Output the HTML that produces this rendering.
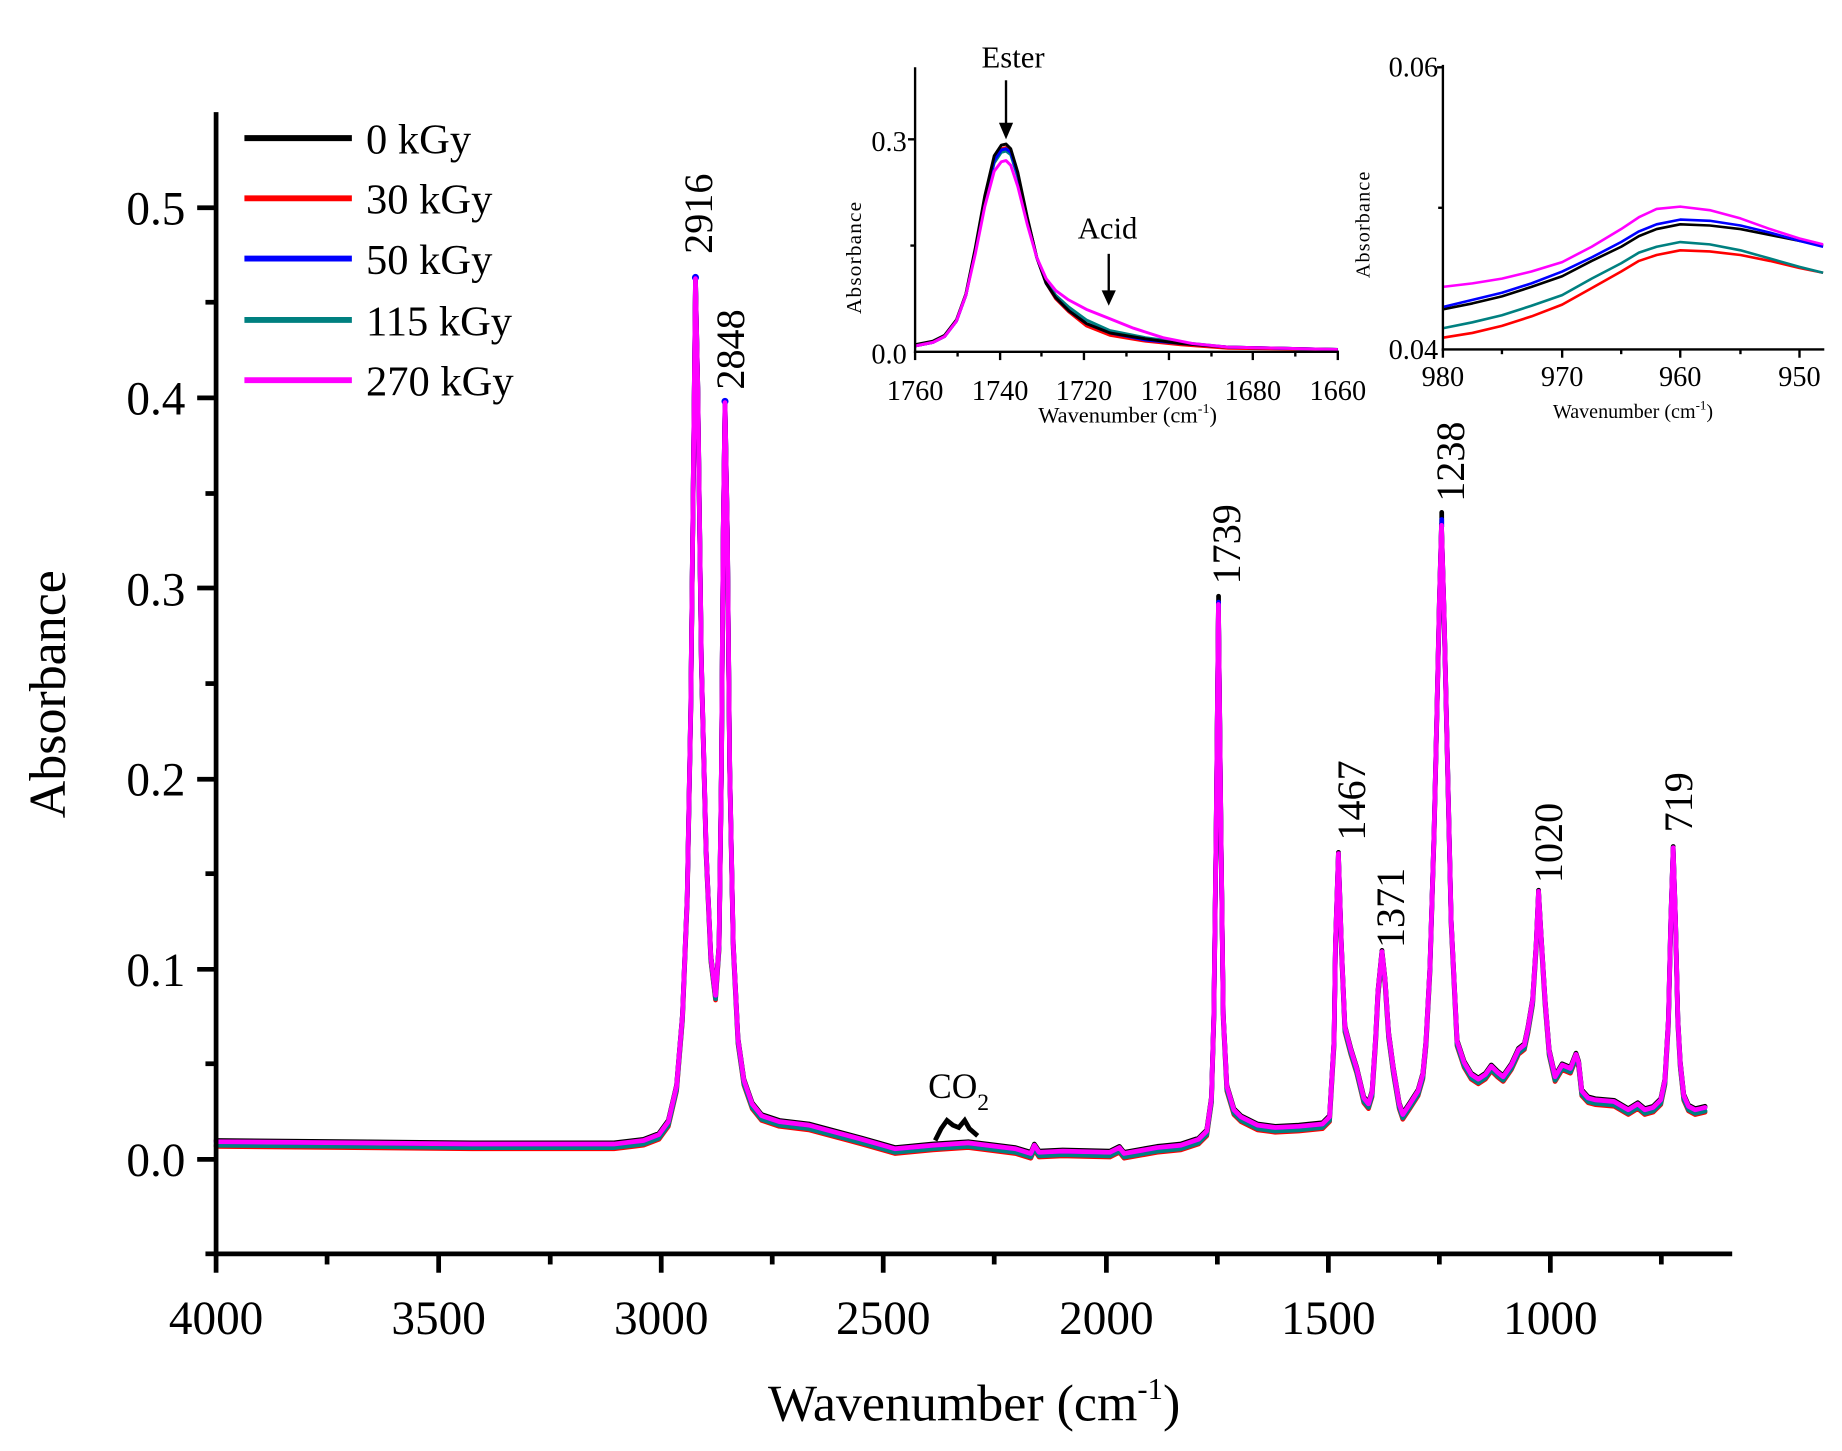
<!DOCTYPE html>
<html><head><meta charset="utf-8"><style>
html,body{margin:0;padding:0;background:#fff;}
svg{display:block;}
text{font-family:"Liberation Serif",serif;fill:#000;}
</style></head><body>
<svg width="1842" height="1451" viewBox="0 0 1560 1229" preserveAspectRatio="none" xmlns="http://www.w3.org/2000/svg">
<defs>
<path id="spec" fill="none" stroke-linejoin="round" stroke-linecap="round" d="M183,967 L300,968 L400,969 L520,969 L545,966 L558,961 L566,950 L573,920 L578,860 L582,760 L585,600 L587,420 L589,236 L591,330 L594,560 L598,720 L602,810 L606,843 L609,800 L611,650 L612.5,450 L614,341 L616,450 L618,650 L621,800 L625,880 L630,915 L637,935 L645,945 L660,950 L685,953 L700,957 L730,965 L758,973 L790,970 L820,968 L860,973 L873,977 L876,970 L880,976 L900,975 L940,976 L948,972 L952,977 L980,972 L1000,970 L1015,965 L1022,958 L1026,930 L1028,860 L1030,700 L1031.9,512 L1034,700 L1036,860 L1039,920 L1045,940 L1051,946 L1065,953 L1080,955 L1100,954 L1120,952 L1126,946 L1129.8,882 L1131,800 L1133.5,723 L1136,800 L1139,870 L1144,889 L1149,905 L1155,930 L1159,935 L1162,925 L1165,880 L1167,840 L1170.4,806 L1173,830 L1176,875 L1180,905 L1185,935 L1188,944 L1194,935 L1201,924 L1205,910 L1207.7,882 L1211,820 L1214.5,706 L1217,600 L1219,510 L1220.8,445 L1223,520 L1226,650 L1229,780 L1234,882 L1240,900 L1246,910 L1252,914 L1258,910 L1263,903 L1268,908 L1273,912 L1280,902 L1286,889 L1291,885 L1294,871 L1298,847 L1301,800 L1303,755 L1305,790 L1308.5,847 L1312,890 L1317,912 L1323,902 L1330,905 L1334.7,893 L1337,900 L1339.6,924 L1345,930 L1351,931.6 L1367,933 L1379,940 L1387,935 L1393,940 L1400,938 L1406.5,931.6 L1410,915 L1413,864 L1415,780 L1417,718 L1419,780 L1421,864 L1423,900 L1426,928 L1430,937 L1435.6,940 L1440,939 L1444,938"/>
</defs>
<g stroke-width="4">
<use href="#spec" stroke="#ff0000" transform="translate(0,4)"/>
<use href="#spec" stroke="#008080" transform="translate(0,3)"/>
<use href="#spec" stroke="#0000ff" transform="translate(0,0)"/>
<use href="#spec" stroke="#000000" transform="translate(0,-1)"/>
</g>
<path d="M792,966 L797,956 L802,949 L807,953 L812,955 L817,949 L821,956 L828,962" fill="none" stroke="#000" stroke-width="4"/>
<g stroke-width="4" stroke-linecap="round">
<line x1="1032" y1="505" x2="1032" y2="516" stroke="#000"/>
<line x1="1221" y1="434" x2="1221" y2="446" stroke="#000"/>
<line x1="1221" y1="440" x2="1221" y2="446" stroke="#0000ff"/>
<line x1="1032" y1="510" x2="1032" y2="516" stroke="#0000ff"/>
</g>
<g fill="#0000ff"><circle cx="589" cy="235" r="3"/><circle cx="614" cy="340" r="3"/></g>
<use href="#spec" stroke="#ff00ff" stroke-width="4"/>
<!-- main axes -->
<line x1="183" y1="95" x2="183" y2="1064" stroke="#000" stroke-width="4"/>
<line x1="181" y1="1062" x2="1467" y2="1062" stroke="#000" stroke-width="4"/>
<g stroke="#000" stroke-width="4">
<line x1="183" y1="1062" x2="183" y2="1078"/><line x1="277" y1="1062" x2="277" y2="1071"/>
<line x1="371.5" y1="1062" x2="371.5" y2="1078"/><line x1="466" y1="1062" x2="466" y2="1071"/>
<line x1="560" y1="1062" x2="560" y2="1078"/><line x1="654" y1="1062" x2="654" y2="1071"/>
<line x1="748" y1="1062" x2="748" y2="1078"/><line x1="842" y1="1062" x2="842" y2="1071"/>
<line x1="937" y1="1062" x2="937" y2="1078"/><line x1="1031" y1="1062" x2="1031" y2="1071"/>
<line x1="1125" y1="1062" x2="1125" y2="1078"/><line x1="1219" y1="1062" x2="1219" y2="1071"/>
<line x1="1313" y1="1062" x2="1313" y2="1078"/><line x1="1407" y1="1062" x2="1407" y2="1071"/>
<line x1="183" y1="982" x2="167" y2="982"/><line x1="183" y1="901" x2="174" y2="901"/>
<line x1="183" y1="821" x2="167" y2="821"/><line x1="183" y1="740" x2="174" y2="740"/>
<line x1="183" y1="660" x2="167" y2="660"/><line x1="183" y1="579" x2="174" y2="579"/>
<line x1="183" y1="498" x2="167" y2="498"/><line x1="183" y1="418" x2="174" y2="418"/>
<line x1="183" y1="337" x2="167" y2="337"/><line x1="183" y1="256" x2="174" y2="256"/>
<line x1="183" y1="176" x2="167" y2="176"/><line x1="183" y1="1062" x2="174" y2="1062"/>
</g>
<g font-size="40">
<text x="183" y="1130" text-anchor="middle">4000</text>
<text x="371.5" y="1130" text-anchor="middle">3500</text>
<text x="560" y="1130" text-anchor="middle">3000</text>
<text x="748" y="1130" text-anchor="middle">2500</text>
<text x="937" y="1130" text-anchor="middle">2000</text>
<text x="1125" y="1130" text-anchor="middle">1500</text>
<text x="1313" y="1130" text-anchor="middle">1000</text>
<text x="157" y="996" text-anchor="end">0.0</text>
<text x="157" y="835" text-anchor="end">0.1</text>
<text x="157" y="674" text-anchor="end">0.2</text>
<text x="157" y="513" text-anchor="end">0.3</text>
<text x="157" y="351" text-anchor="end">0.4</text>
<text x="157" y="190" text-anchor="end">0.5</text>
</g>
<text x="825" y="1203" font-size="44" text-anchor="middle">Wavenumber (cm<tspan dy="-18" font-size="26">-1</tspan><tspan dy="18">)</tspan></text>
<text transform="translate(55,588) rotate(-90)" font-size="44" text-anchor="middle">Absorbance</text>
<!-- legend -->
<g stroke-width="5">
<line x1="207" y1="117" x2="298" y2="117" stroke="#000"/>
<line x1="207" y1="168" x2="298" y2="168" stroke="#ff0000"/>
<line x1="207" y1="219" x2="298" y2="219" stroke="#0000ff"/>
<line x1="207" y1="271" x2="298" y2="271" stroke="#008080"/>
<line x1="207" y1="322" x2="298" y2="322" stroke="#ff00ff"/>
</g>
<g font-size="36">
<text x="310" y="130">0 kGy</text>
<text x="310" y="181">30 kGy</text>
<text x="310" y="232">50 kGy</text>
<text x="310" y="284">115 kGy</text>
<text x="310" y="335">270 kGy</text>
</g>
<g font-size="34">
<text transform="translate(603,215) rotate(-90)">2916</text>
<text transform="translate(630,330) rotate(-90)">2848</text>
<text transform="translate(1050,495) rotate(-90)">1739</text>
<text transform="translate(1156,712) rotate(-90)">1467</text>
<text transform="translate(1189,803) rotate(-90)">1371</text>
<text transform="translate(1240,425) rotate(-90)">1238</text>
<text transform="translate(1323,748) rotate(-90)">1020</text>
<text transform="translate(1433,705) rotate(-90)">719</text>
</g>
<text x="786" y="930" font-size="30">CO<tspan dy="10" font-size="20">2</tspan></text>
<!-- inset 1 -->
<g fill="none" stroke-width="2.5" stroke-linejoin="round">
<polyline stroke="#ff0000" points="775,293 790,290 800,285 810,272 818,250 826,212 834,170 842,136 848,126 852,125 856,128 862,148 870,185 878,218 886,240 894,253 905,264 920,276 940,284 970,289 1000,292 1040,295 1133,296"/>
<polyline stroke="#008080" points="775,293 790,290 800,285 810,272 818,250 826,212 834,170 842,138 848,129 852,128 856,131 862,150 870,186 878,218 886,238 894,250 905,260 920,271 940,280 970,286 1000,290 1040,294 1133,296"/>
<polyline stroke="#0000ff" points="775,293 790,290 800,285 810,272 818,250 826,212 834,170 842,136 848,127 852,126 856,129 862,148 870,185 878,218 886,240 894,252 905,263 920,274 940,282 970,288 1000,291 1040,294 1133,296"/>
<polyline stroke="#000000" points="775,292 790,289 800,284 810,271 818,249 826,210 834,166 842,132 848,123 852,122 856,126 862,146 870,184 878,218 886,240 894,252 905,263 920,274 940,282 970,287 1000,291 1040,294 1133,296"/>
<polyline stroke="#ff00ff" points="775,293 790,290 800,285 810,272 818,250 826,215 834,175 842,145 848,137 852,136 856,140 862,158 870,190 878,218 886,236 894,246 905,254 920,262 940,270 960,278 985,286 1010,291 1040,294 1133,296"/>
</g>
<line x1="775" y1="57" x2="775" y2="299" stroke="#000" stroke-width="2"/>
<line x1="774" y1="298" x2="1134" y2="298" stroke="#000" stroke-width="2"/>
<g stroke="#000" stroke-width="2">
<line x1="775" y1="298" x2="775" y2="305"/><line x1="811" y1="298" x2="811" y2="302"/>
<line x1="847" y1="298" x2="847" y2="305"/><line x1="882" y1="298" x2="882" y2="302"/>
<line x1="918" y1="298" x2="918" y2="305"/><line x1="954" y1="298" x2="954" y2="302"/>
<line x1="990" y1="298" x2="990" y2="305"/><line x1="1026" y1="298" x2="1026" y2="302"/>
<line x1="1061" y1="298" x2="1061" y2="305"/><line x1="1097" y1="298" x2="1097" y2="302"/>
<line x1="1133" y1="298" x2="1133" y2="305"/>
<line x1="775" y1="118" x2="769" y2="118"/><line x1="775" y1="208" x2="771" y2="208"/>
</g>
<g font-size="24">
<text x="775" y="339" text-anchor="middle">1760</text>
<text x="847" y="339" text-anchor="middle">1740</text>
<text x="918" y="339" text-anchor="middle">1720</text>
<text x="990" y="339" text-anchor="middle">1700</text>
<text x="1061" y="339" text-anchor="middle">1680</text>
<text x="1133" y="339" text-anchor="middle">1660</text>
<text x="768" y="308" text-anchor="end">0.0</text>
<text x="768" y="128" text-anchor="end">0.3</text>
</g>
<text x="955" y="358" font-size="19" text-anchor="middle">Wavenumber (cm<tspan dy="-8" font-size="12">-1</tspan><tspan dy="8">)</tspan></text>
<text transform="translate(729,218) rotate(-90)" font-size="18" text-anchor="middle" letter-spacing="1">Absorbance</text>
<text x="858" y="57" font-size="26" text-anchor="middle">Ester</text>
<line x1="852" y1="68" x2="852" y2="106" stroke="#000" stroke-width="2"/>
<polygon points="846,104 858,104 852,118" fill="#000"/>
<text x="938" y="202" font-size="26" text-anchor="middle">Acid</text>
<line x1="939" y1="215" x2="939" y2="248" stroke="#000" stroke-width="2"/>
<polygon points="933,246 945,246 939,259" fill="#000"/>
<!-- inset 2 -->
<g fill="none" stroke-width="2.2" stroke-linejoin="round">
<polyline stroke="#ff0000" points="1222,286 1247,282 1272,276 1297,268 1323,258 1348,244 1373,230 1388,221 1403,216 1423,212 1448,213 1474,216 1499,221 1524,227 1544,231"/>
<polyline stroke="#008080" points="1222,278 1247,273 1272,267 1297,259 1323,250 1348,236 1373,223 1388,214 1403,209 1423,205 1448,207 1474,212 1499,219 1524,226 1544,231"/>
<polyline stroke="#000000" points="1222,262 1247,257 1272,251 1297,243 1323,234 1348,221 1373,209 1388,200 1403,194 1423,190 1448,191 1474,194 1499,199 1524,204 1544,208"/>
<polyline stroke="#0000ff" points="1222,260 1247,254 1272,248 1297,240 1323,230 1348,218 1373,205 1388,196 1403,190 1423,186 1448,187 1474,191 1499,197 1524,204 1544,209"/>
<polyline stroke="#ff00ff" points="1222,243 1247,240 1272,236 1297,230 1323,222 1348,209 1373,194 1388,184 1403,177 1423,175 1448,178 1474,185 1499,194 1524,202 1544,207"/>
</g>
<line x1="1222" y1="55" x2="1222" y2="297" stroke="#000" stroke-width="2"/>
<line x1="1221" y1="296" x2="1545" y2="296" stroke="#000" stroke-width="2"/>
<g stroke="#000" stroke-width="2">
<line x1="1222" y1="296" x2="1222" y2="303"/><line x1="1272" y1="296" x2="1272" y2="300"/>
<line x1="1323" y1="296" x2="1323" y2="303"/><line x1="1373" y1="296" x2="1373" y2="300"/>
<line x1="1423" y1="296" x2="1423" y2="303"/><line x1="1474" y1="296" x2="1474" y2="300"/>
<line x1="1524" y1="296" x2="1524" y2="303"/>
<line x1="1222" y1="57" x2="1217" y2="57"/><line x1="1222" y1="176" x2="1218" y2="176"/>
</g>
<g font-size="24">
<text x="1222" y="327" text-anchor="middle">980</text>
<text x="1323" y="327" text-anchor="middle">970</text>
<text x="1423" y="327" text-anchor="middle">960</text>
<text x="1524" y="327" text-anchor="middle">950</text>
<text x="1218" y="65" text-anchor="end">0.06</text>
<text x="1218" y="304" text-anchor="end">0.04</text>
</g>
<text x="1383" y="354" font-size="17" text-anchor="middle">Wavenumber (cm<tspan dy="-7" font-size="11">-1</tspan><tspan dy="7">)</tspan></text>
<text transform="translate(1160,190) rotate(-90)" font-size="17" text-anchor="middle" letter-spacing="1">Absorbance</text>
</svg>
</body></html>
